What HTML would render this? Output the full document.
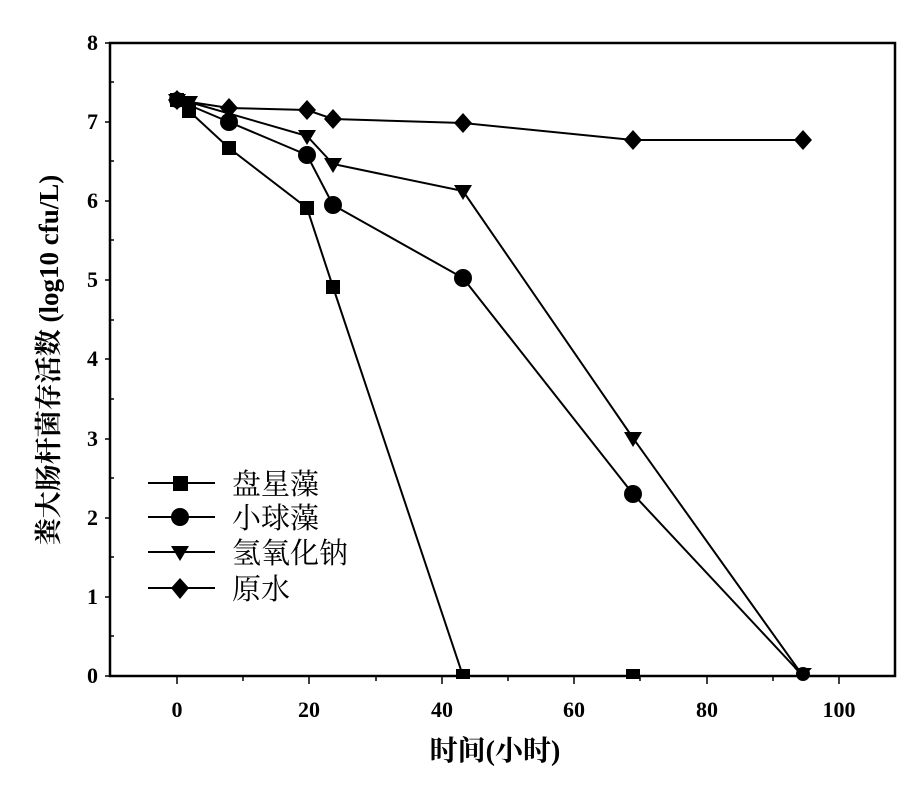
<!DOCTYPE html>
<html><head><meta charset="utf-8"><style>body{margin:0;background:#fff}</style></head><body>
<svg width="917" height="787" xmlns="http://www.w3.org/2000/svg" font-family="Liberation Serif, Noto Serif CJK SC, serif">
<rect width="917" height="787" fill="#fff"/>
<rect x="110" y="43" width="785" height="633" fill="none" stroke="#000" stroke-width="2.5"/>
<g stroke="#000" stroke-width="1.5">
<line x1="105" y1="43" x2="110" y2="43"/><line x1="105" y1="122" x2="110" y2="122"/><line x1="105" y1="201" x2="110" y2="201"/><line x1="105" y1="280" x2="110" y2="280"/><line x1="105" y1="359" x2="110" y2="359"/><line x1="105" y1="439" x2="110" y2="439"/><line x1="105" y1="518" x2="110" y2="518"/><line x1="105" y1="597" x2="110" y2="597"/><line x1="105" y1="676" x2="110" y2="676"/>
<line x1="110" y1="82" x2="114" y2="82"/><line x1="110" y1="161" x2="114" y2="161"/><line x1="110" y1="240" x2="114" y2="240"/><line x1="110" y1="320" x2="114" y2="320"/><line x1="110" y1="399" x2="114" y2="399"/><line x1="110" y1="478" x2="114" y2="478"/><line x1="110" y1="557" x2="114" y2="557"/><line x1="110" y1="636" x2="114" y2="636"/>
<line x1="177" y1="676" x2="177" y2="684"/><line x1="309" y1="676" x2="309" y2="684"/><line x1="442" y1="676" x2="442" y2="684"/><line x1="574" y1="676" x2="574" y2="684"/><line x1="707" y1="676" x2="707" y2="684"/><line x1="839" y1="676" x2="839" y2="684"/>
<line x1="243" y1="676" x2="243" y2="681"/><line x1="376" y1="676" x2="376" y2="681"/><line x1="508" y1="676" x2="508" y2="681"/><line x1="640" y1="676" x2="640" y2="681"/><line x1="773" y1="676" x2="773" y2="681"/>
</g>
<g font-size="22" font-weight="bold" text-anchor="end">
<text x="98" y="50">8</text><text x="98" y="129">7</text><text x="98" y="208">6</text><text x="98" y="287">5</text><text x="98" y="366">4</text><text x="98" y="446">3</text><text x="98" y="525">2</text><text x="98" y="604">1</text><text x="98" y="683">0</text>
</g>
<g font-size="22" font-weight="bold" text-anchor="middle">
<text x="177" y="717">0</text><text x="309" y="717">20</text><text x="442" y="717">40</text><text x="574" y="717">60</text><text x="707" y="717">80</text><text x="839" y="717">100</text>
</g>
<text x="495" y="760" font-size="28" text-anchor="middle" font-weight="bold">时间(小时)</text>
<text transform="translate(58,360) rotate(-90)" font-size="27" text-anchor="middle" font-weight="bold">粪大肠杆菌存活数 (log10 cfu/L)</text>
<g fill="none" stroke="#000" stroke-width="2">
<polyline points="177,100 189,111 229,148 307,208 333,287 463,676 633,676"/>
<polyline points="177,100 229,122 307,155 333,205 463,278 633,494 803,676"/>
<polyline points="177,100 189,102 307,136 333,164 463,191 633,438 803,676"/>
<polyline points="177,100 229,108 307,110 333,119 463,123 633,140 803,140"/>
</g>
<g fill="#000">
<rect x="170" y="93" width="14" height="14"/><rect x="182" y="104" width="14" height="14"/><rect x="222" y="141" width="14" height="14"/><rect x="300" y="201" width="14" height="14"/><rect x="326" y="280" width="14" height="14"/><rect x="456" y="669" width="14" height="10"/><rect x="626" y="669" width="14" height="10"/>
<circle cx="177" cy="100" r="8"/><circle cx="229" cy="122" r="9"/><circle cx="307" cy="155" r="9"/><circle cx="333" cy="205" r="9"/><circle cx="463" cy="278" r="9"/><circle cx="633" cy="494" r="9"/><circle cx="803" cy="674" r="7"/>
<path d="M168,94h18l-9,15z M180,96h18l-9,15z M298,130h18l-9,15z M324,158h18l-9,15z M454,185h18l-9,15z M624,432h18l-9,15z M794,668h18l-9,10z"/>
<path d="M177,90l9,10l-9,10l-9,-10z M229,98l9,10l-9,10l-9,-10z M307,100l9,10l-9,10l-9,-10z M333,109l9,10l-9,10l-9,-10z M463,113l9,10l-9,10l-9,-10z M633,130l9,10l-9,10l-9,-10z M803,130l9,10l-9,10l-9,-10z"/>
</g>
<g stroke="#000" stroke-width="2"><line x1="148" y1="483" x2="215" y2="483"/><line x1="148" y1="517" x2="215" y2="517"/><line x1="148" y1="552" x2="215" y2="552"/><line x1="148" y1="588" x2="215" y2="588"/></g>
<g fill="#000">
<rect x="173" y="476" width="15" height="15"/><circle cx="180" cy="517" r="9"/><path d="M171,546h18l-9,15z"/><path d="M180,578l9,10l-9,11l-9,-11z"/>
</g>
<g font-size="29"><text x="232" y="494">盘星藻</text><text x="232" y="528">小球藻</text><text x="232" y="563">氢氧化钠</text><text x="232" y="599">原水</text></g>
</svg>
</body></html>
